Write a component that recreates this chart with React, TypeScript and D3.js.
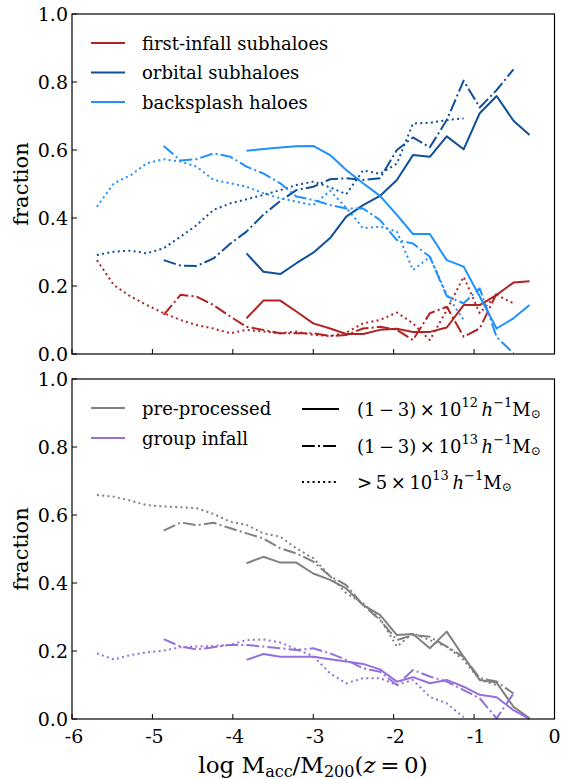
import React from "react";
import * as d3 from "d3";

// shared x grid (log M_acc / M200) of the binned curves
const xGrid = [-5.69, -5.48, -5.27, -5.07, -4.86, -4.65, -4.45, -4.24, -4.03, -3.83, -3.62, -3.41, -3.21, -3.0, -2.79, -2.59, -2.38, -2.17, -1.96, -1.76, -1.55, -1.34, -1.13, -0.93, -0.72, -0.51, -0.31];

// top panel
const firstInfall12 = { start: 9, v: [0.105, 0.157, 0.157, 0.125, 0.09, 0.075, 0.059, 0.059, 0.071, 0.074, 0.065, 0.065, 0.078, 0.144, 0.144, 0.174, 0.21, 0.214] };
const firstInfall13 = { start: 4, v: [0.115, 0.174, 0.169, 0.144, 0.11, 0.08, 0.071, 0.061, 0.061, 0.061, 0.053, 0.056, 0.075, 0.08, 0.071, 0.041, 0.12, 0.139, 0.051, 0.075, 0.178] };
const firstInfall5e13 = { start: 0, v: [0.276, 0.203, 0.169, 0.144, 0.12, 0.1, 0.085, 0.075, 0.061, 0.071, 0.066, 0.061, 0.066, 0.056, 0.053, 0.063, 0.09, 0.1, 0.122, 0.09, 0.041, 0.129, 0.227, 0.12, 0.174, 0.149] };
const orbital12 = { start: 9, v: [0.296, 0.242, 0.235, 0.267, 0.298, 0.341, 0.404, 0.438, 0.465, 0.512, 0.585, 0.58, 0.64, 0.602, 0.708, 0.759, 0.686, 0.644] };
const orbital13 = { start: 4, v: [0.276, 0.26, 0.259, 0.281, 0.325, 0.36, 0.41, 0.45, 0.482, 0.492, 0.514, 0.517, 0.512, 0.517, 0.6, 0.637, 0.608, 0.688, 0.804, 0.725, 0.776, 0.837] };
const orbital5e13 = { start: 0, v: [0.291, 0.301, 0.304, 0.296, 0.311, 0.345, 0.379, 0.424, 0.443, 0.455, 0.468, 0.482, 0.497, 0.507, 0.49, 0.47, 0.54, 0.53, 0.56, 0.678, 0.68, 0.688, 0.693] };
const backsplash12 = { start: 9, v: [0.598, 0.603, 0.607, 0.611, 0.612, 0.585, 0.541, 0.502, 0.465, 0.409, 0.353, 0.353, 0.276, 0.257, 0.169, 0.075, 0.105, 0.144] };
const backsplash13 = { start: 4, v: [0.612, 0.569, 0.573, 0.59, 0.58, 0.551, 0.531, 0.502, 0.463, 0.453, 0.438, 0.428, 0.428, 0.394, 0.335, 0.325, 0.286, 0.17, 0.149, 0.193, 0.05, 0.002] };
const backsplash5e13 = { start: 0, v: [0.433, 0.502, 0.526, 0.561, 0.573, 0.566, 0.551, 0.512, 0.502, 0.492, 0.473, 0.458, 0.448, 0.438, 0.48, 0.43, 0.37, 0.375, 0.36, 0.247, 0.286, 0.175, 0.1] };

// bottom panel
const pre12 = { start: 9, v: [0.458, 0.477, 0.46, 0.46, 0.428, 0.409, 0.384, 0.335, 0.306, 0.247, 0.25, 0.208, 0.257, 0.183, 0.115, 0.107, 0.036, 0.002] };
const pre13 = { start: 4, v: [0.554, 0.578, 0.57, 0.577, 0.561, 0.546, 0.531, 0.502, 0.487, 0.463, 0.42, 0.394, 0.335, 0.291, 0.232, 0.247, 0.242, 0.213, 0.183, 0.12, 0.11, 0.075] };
const pre5e13 = { start: 0, v: [0.659, 0.654, 0.642, 0.629, 0.625, 0.623, 0.62, 0.603, 0.58, 0.571, 0.546, 0.536, 0.502, 0.473, 0.42, 0.37, 0.34, 0.296, 0.213, 0.252, 0.232, 0.213, 0.174, 0.115, 0.1] };
const group12 = { start: 9, v: [0.174, 0.191, 0.183, 0.183, 0.183, 0.176, 0.169, 0.162, 0.146, 0.11, 0.123, 0.105, 0.115, 0.095, 0.071, 0.064, 0.026, 0.0] };
const group13 = { start: 4, v: [0.235, 0.213, 0.205, 0.211, 0.218, 0.218, 0.213, 0.208, 0.203, 0.208, 0.193, 0.174, 0.149, 0.139, 0.1, 0.144, 0.125, 0.11, 0.085, 0.061, 0.002, 0.075] };
const group5e13 = { start: 0, v: [0.193, 0.175, 0.188, 0.196, 0.201, 0.211, 0.213, 0.215, 0.218, 0.232, 0.234, 0.225, 0.205, 0.185, 0.134, 0.105, 0.12, 0.12, 0.1, 0.115, 0.065, 0.046, 0.005] };

const xTicks = [-6, -5, -4, -3, -2, -1, 0];
const yTicks = [0, 0.2, 0.4, 0.6, 0.8, 1.0];

const RED = "#b22222";
const NAVY = "#10509a";
const LIGHT = "#1e90ff";
const GRAY = "#808080";
const PURPLE = "#9370db";

const DASHDOT = "12.8,3.2,2,3.2";
const DOTTED = "2,3.3";

const FONT = "'DejaVu Serif', serif";

const W = 561;
const H = 779;
const X0 = 72;
const X1 = 554.5;

const xScale = d3.scaleLinear().domain([-6, 0]).range([X0, X1]);

type Series = { start: number; v: number[] };

const txt = (size: number) => ({ fontFamily: FONT, fontSize: size + "px" });

function Panel({ top, bottom, series, showXLabels }: { top: number; bottom: number; series: { s: Series; color: string; dash: string | null }[]; showXLabels: boolean }) {
  const y = d3.scaleLinear().domain([0, 1]).range([bottom, top]);
  const line = d3
    .line<[number, number]>()
    .x((d) => xScale(d[0]))
    .y((d) => y(d[1]));
  return (
    <g>
      {series.map((se, i) => {
        const pts: [number, number][] = se.s.v.map((val, j) => [xGrid[se.s.start + j], val]);
        return (
          <path
            key={i}
            d={line(pts) || ""}
            fill="none"
            stroke={se.color}
            strokeWidth={2}
            strokeDasharray={se.dash || undefined}
            strokeLinejoin="round"
          />
        );
      })}
      <rect x={X0} y={top} width={X1 - X0} height={bottom - top} fill="none" stroke="#000" strokeWidth={1.2} />
      {xTicks.map((t) => (
        <g key={"x" + t}>
          <line x1={xScale(t)} x2={xScale(t)} y1={bottom} y2={bottom - 5} stroke="#000" strokeWidth={1} />
          {showXLabels && (
            <text x={xScale(t) + (t === 0 ? 0 : 2)} y={bottom + 17} textAnchor="middle" dominantBaseline="central" style={txt(19)}>
              {t === 0 ? "0" : "-" + Math.abs(t)}
            </text>
          )}
        </g>
      ))}
      {yTicks.map((t) => (
        <g key={"y" + t}>
          <line x1={X0} x2={X0 + 5} y1={y(t)} y2={y(t)} stroke="#000" strokeWidth={1} />
          <text x={X0 - 4} y={y(t)} textAnchor="end" dominantBaseline="central" style={txt(19)}>
            {t.toFixed(1)}
          </text>
        </g>
      ))}
      <text
        transform={`translate(21,${(top + bottom) / 2}) rotate(-90)`}
        textAnchor="middle"
        dominantBaseline="central"
        style={txt(21)}
      >
        fraction
      </text>
    </g>
  );
}

function MassLabel({ x, y, exp, prefix }: { x: number; y: number; exp: string; prefix: string }) {
  return (
    <text x={x} y={y} dominantBaseline="central" style={txt(18)}>
      {prefix}
      <tspan style={{ fontSize: "13px" }} dy={-7}>{exp}</tspan>
      <tspan dy={7}>{"\u2009"}</tspan>
      <tspan fontStyle="italic">h</tspan>
      <tspan style={{ fontSize: "13px" }} dy={-7}>{"\u2212"}1</tspan>
      <tspan dy={7}>M</tspan>
      <tspan style={{ fontSize: "12px" }} dy={5}>{"\u2299"}</tspan>
    </text>
  );
}

export default function App() {
  const topSeries = [
    { s: firstInfall12, color: RED, dash: null },
    { s: firstInfall13, color: RED, dash: DASHDOT },
    { s: firstInfall5e13, color: RED, dash: DOTTED },
    { s: orbital12, color: NAVY, dash: null },
    { s: orbital13, color: NAVY, dash: DASHDOT },
    { s: orbital5e13, color: NAVY, dash: DOTTED },
    { s: backsplash12, color: LIGHT, dash: null },
    { s: backsplash13, color: LIGHT, dash: DASHDOT },
    { s: backsplash5e13, color: LIGHT, dash: DOTTED },
  ];
  const botSeries = [
    { s: pre12, color: GRAY, dash: null },
    { s: pre13, color: GRAY, dash: DASHDOT },
    { s: pre5e13, color: GRAY, dash: DOTTED },
    { s: group12, color: PURPLE, dash: null },
    { s: group13, color: PURPLE, dash: DASHDOT },
    { s: group5e13, color: PURPLE, dash: DOTTED },
  ];
  const topLegend = [
    { label: "first-infall subhaloes", color: RED },
    { label: "orbital subhaloes", color: NAVY },
    { label: "backsplash haloes", color: LIGHT },
  ];
  const botLegend = [
    { label: "pre-processed", color: GRAY },
    { label: "group infall", color: PURPLE },
  ];
  return (
    <svg width={W} height={H} style={{ position: "absolute", left: 0, top: 0, background: "#fff" }}>
      <rect x={0} y={0} width={W} height={H} fill="#fff" />
      <Panel top={14} bottom={354} series={topSeries} showXLabels={false} />
      <Panel top={379} bottom={719} series={botSeries} showXLabels={true} />
      {topLegend.map((l, i) => (
        <g key={l.label}>
          <line x1={91} x2={125} y1={43 + i * 29.5} y2={43 + i * 29.5} stroke={l.color} strokeWidth={2} />
          <text x={142} y={43 + i * 29.5} dominantBaseline="central" style={txt(18)}>
            {l.label}
          </text>
        </g>
      ))}
      {botLegend.map((l, i) => (
        <g key={l.label}>
          <line x1={91} x2={125} y1={408 + i * 30} y2={408 + i * 30} stroke={l.color} strokeWidth={2} />
          <text x={142} y={408 + i * 30} dominantBaseline="central" style={txt(18)}>
            {l.label}
          </text>
        </g>
      ))}
      <line x1={302} x2={339} y1={409} y2={409} stroke="#000" strokeWidth={2} />
      <line x1={302} x2={339} y1={446} y2={446} stroke="#000" strokeWidth={2} strokeDasharray={DASHDOT} />
      <line x1={302} x2={339} y1={482} y2={482} stroke="#000" strokeWidth={2} strokeDasharray={DOTTED} />
      <MassLabel x={357} y={409} prefix={"(1\u2009\u2212\u20093)\u2009\u00d7\u200910"} exp="12" />
      <MassLabel x={357} y={446} prefix={"(1\u2009\u2212\u20093)\u2009\u00d7\u200910"} exp="13" />
      <MassLabel x={357} y={482} prefix={">\u20095\u2009\u00d7\u200910"} exp="13" />
      <text x={313} y={765} textAnchor="middle" dominantBaseline="central" style={txt(23)}>
        log M
        <tspan style={{ fontSize: "16px" }} dy={6}>acc</tspan>
        <tspan dy={-6}>/M</tspan>
        <tspan style={{ fontSize: "16px" }} dy={6}>200</tspan>
        <tspan dy={-6}>(</tspan>
        <tspan fontStyle="italic">z</tspan>
        <tspan>{"\u2009=\u20090)"}</tspan>
      </text>
    </svg>
  );
}
